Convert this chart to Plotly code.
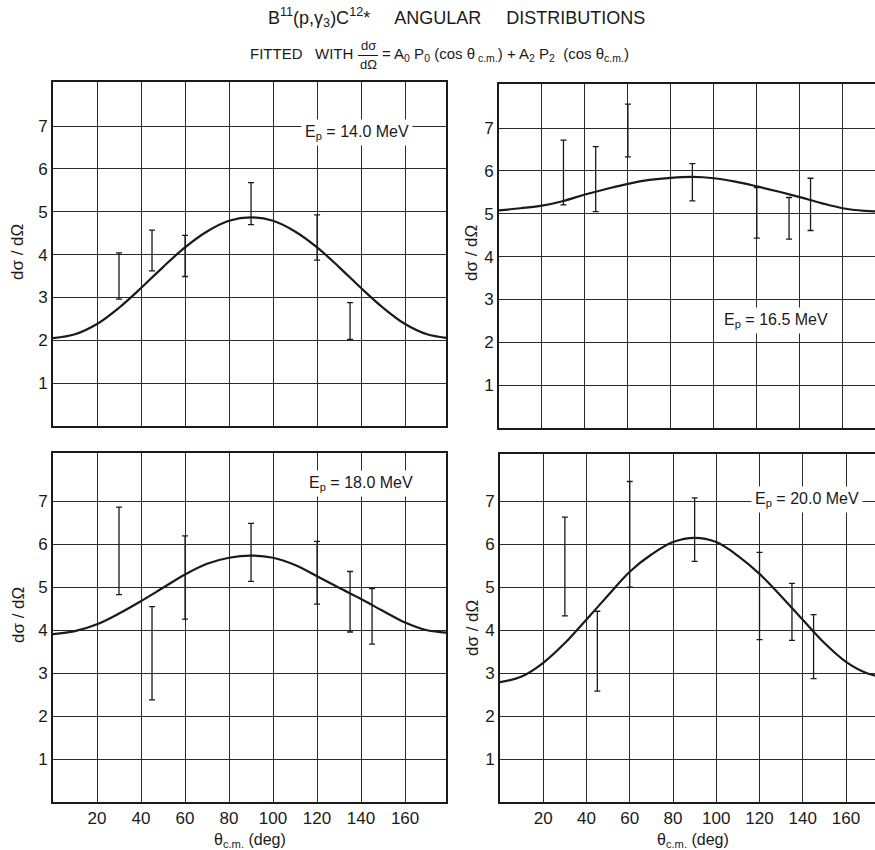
import plotly.graph_objects as go

# ---------------- data ----------------
curve_angles = [0, 10, 20, 30, 40, 50, 60, 70, 80, 90, 100, 110, 120, 130, 140, 150, 160, 170, 180]
curve_140 = [2.05, 2.14, 2.38, 2.76, 3.22, 3.71, 4.17, 4.54, 4.79, 4.87, 4.79, 4.54, 4.17, 3.71, 3.22, 2.76, 2.38, 2.14, 2.05]
curve_165 = [5.08, 5.13, 5.19, 5.30, 5.45, 5.58, 5.70, 5.79, 5.84, 5.86, 5.83, 5.75, 5.64, 5.52, 5.39, 5.25, 5.13, 5.07, 5.05]
curve_180 = [3.91, 3.98, 4.14, 4.39, 4.68, 4.99, 5.30, 5.55, 5.69, 5.74, 5.69, 5.52, 5.26, 4.99, 4.73, 4.45, 4.18, 4.00, 3.94]
curve_200 = [2.79, 2.92, 3.24, 3.70, 4.25, 4.81, 5.36, 5.76, 6.05, 6.15, 6.05, 5.73, 5.31, 4.79, 4.24, 3.70, 3.26, 2.99, 2.89]

err_angles_140 = [30, 45, 60, 90, 120, 135]
low_140 = [2.96, 3.62, 3.49, 4.70, 3.87, 2.02]
high_140 = [4.04, 4.57, 4.45, 5.68, 4.93, 2.88]

err_angles = [30, 45, 60, 90, 120, 135, 145]
low_165 = [5.21, 5.05, 6.33, 5.30, 4.43, 4.41, 4.61]
high_165 = [6.72, 6.57, 7.56, 6.17, 5.61, 5.38, 5.83]
low_180 = [4.83, 2.38, 4.26, 5.14, 4.61, 3.96, 3.68]
high_180 = [6.87, 4.55, 6.20, 6.49, 6.07, 5.37, 4.97]
low_200 = [4.33, 2.58, 5.00, 5.60, 3.78, 3.76, 2.87]
high_200 = [6.63, 4.44, 7.46, 7.08, 5.81, 5.09, 4.36]

x_ticks = [20, 40, 60, 80, 100, 120, 140, 160]
y_ticks = [1, 2, 3, 4, 5, 6, 7]
energies = ["14.0", "16.5", "18.0", "20.0"]

FONT = "Liberation Sans"
INK = "#1a1a1a"

panels = [
    (err_angles_140, low_140, high_140, curve_140),
    (err_angles, low_165, high_165, curve_165),
    (err_angles, low_180, high_180, curve_180),
    (err_angles, low_200, high_200, curve_200),
]

fig = go.Figure()
for i, (ea, lo, hi, cv) in enumerate(panels):
    sx = "" if i == 0 else str(i + 1)
    mid = [(a + b) / 2 for a, b in zip(lo, hi)]
    half = [(b - a) / 2 for a, b in zip(lo, hi)]
    fig.add_trace(go.Scatter(
        x=curve_angles, y=cv, mode="lines", line=dict(color=INK, width=2.2, shape="spline"),
        xaxis="x" + sx, yaxis="y" + sx, showlegend=False, hoverinfo="skip"))
    fig.add_trace(go.Scatter(
        x=ea, y=mid, mode="markers", marker=dict(size=1, color="rgba(0,0,0,0)"),
        error_y=dict(type="data", array=half, visible=True, color=INK, thickness=1.3, width=3),
        xaxis="x" + sx, yaxis="y" + sx, showlegend=False))

# domains in paper fractions (875 x 850)
W, H = 875.0, 850.0
dom = [
    ((53, 446), (82, 426), 178.6, 8.03),
    ((499, 875), (84, 428), 175.0, 8.03),
    ((53, 446), (453, 802), 178.6, 8.13),
    ((500, 875), (454, 802), 173.4, 8.10),
]

layout = dict(
    width=875, height=850, margin=dict(l=0, r=0, t=0, b=0),
    paper_bgcolor="white", plot_bgcolor="white",
    font=dict(family=FONT, color=INK, size=15),
)
for i, ((x0, x1), (y0, y1), xr, yr) in enumerate(dom):
    sx = "" if i == 0 else str(i + 1)
    right = i in (1, 3)
    bottom = i in (2, 3)
    layout["xaxis" + sx] = dict(
        domain=[x0 / W, x1 / W], range=[0, xr], anchor="y" + sx,
        tickvals=x_ticks, showticklabels=bottom, ticks="",
        showgrid=True, gridcolor="#2a2a2a", gridwidth=1.1,
        showline=True, linecolor=INK, linewidth=1.6, mirror=True,
        zeroline=False, tickfont=dict(size=17, family=FONT, color=INK),
    )
    layout["yaxis" + sx] = dict(
        domain=[1 - y1 / H, 1 - y0 / H], range=[0, yr], anchor="x" + sx,
        tickvals=y_ticks, ticks="", showgrid=True, gridcolor="#2a2a2a", gridwidth=1.1,
        showline=True, linecolor=INK, linewidth=1.6, mirror=not right,
        zeroline=False, tickfont=dict(size=17, family=FONT, color=INK),
    )
fig.update_layout(**layout)


def pa(xp, yp, text, size, **kw):
    d = dict(xref="paper", yref="paper", x=xp / W, y=1 - yp / H, text=text,
             showarrow=False, xanchor=kw.pop("xanchor", "center"), yanchor="middle",
             font=dict(size=size, family=FONT, color=INK))
    d.update(kw)
    return d


ann = []
# panel labels
lab_pos = [("x", "y", 138, 6.86), ("x2", "y2", 129, 2.51), ("x3", "y3", 140, 7.43), ("x4", "y4", 142, 7.05)]
for (xa, ya, xv, yv), e in zip(lab_pos, energies):
    ann.append(dict(xref=xa, yref=ya, x=xv, y=yv, text="E<sub>p</sub> = " + e + " MeV",
                    showarrow=False, bgcolor="white", borderpad=3,
                    xanchor="center", yanchor="middle",
                    font=dict(size=16, family=FONT, color=INK)))

# y-axis titles
for xp, yp in [(18, 252), (472, 253), (18, 615), (472, 628)]:
    ann.append(pa(xp, yp, "dσ / dΩ", 17, textangle=-90))
# x-axis titles
for xp in (250, 693):
    ann.append(pa(xp, 840, "θ<sub>c.m.</sub> (deg)", 16))

# title lines
ann.append(pa(456, 18, "B<sup>11</sup>(p,γ<sub>3</sub>)C<sup>12</sup>*     ANGULAR     DISTRIBUTIONS", 18))
ann.append(pa(355, 54, "FITTED   WITH", 15, xanchor="right"))
ann.append(pa(368, 45, "dσ", 13))
ann.append(pa(368, 65, "dΩ", 13))
ann.append(pa(380, 55, "= A<sub>0</sub> P<sub>0</sub> (cos θ<sub> c.m.</sub>) + A<sub>2</sub> P<sub>2</sub>  (cos θ<sub>c.m.</sub>)",
              15, xanchor="left"))
fig.update_layout(annotations=ann)
fig.add_shape(type="line", xref="paper", yref="paper", x0=358 / W, x1=378 / W,
              y0=1 - 55.5 / H, y1=1 - 55.5 / H, line=dict(color=INK, width=1))

fig.write_html("out.html")
